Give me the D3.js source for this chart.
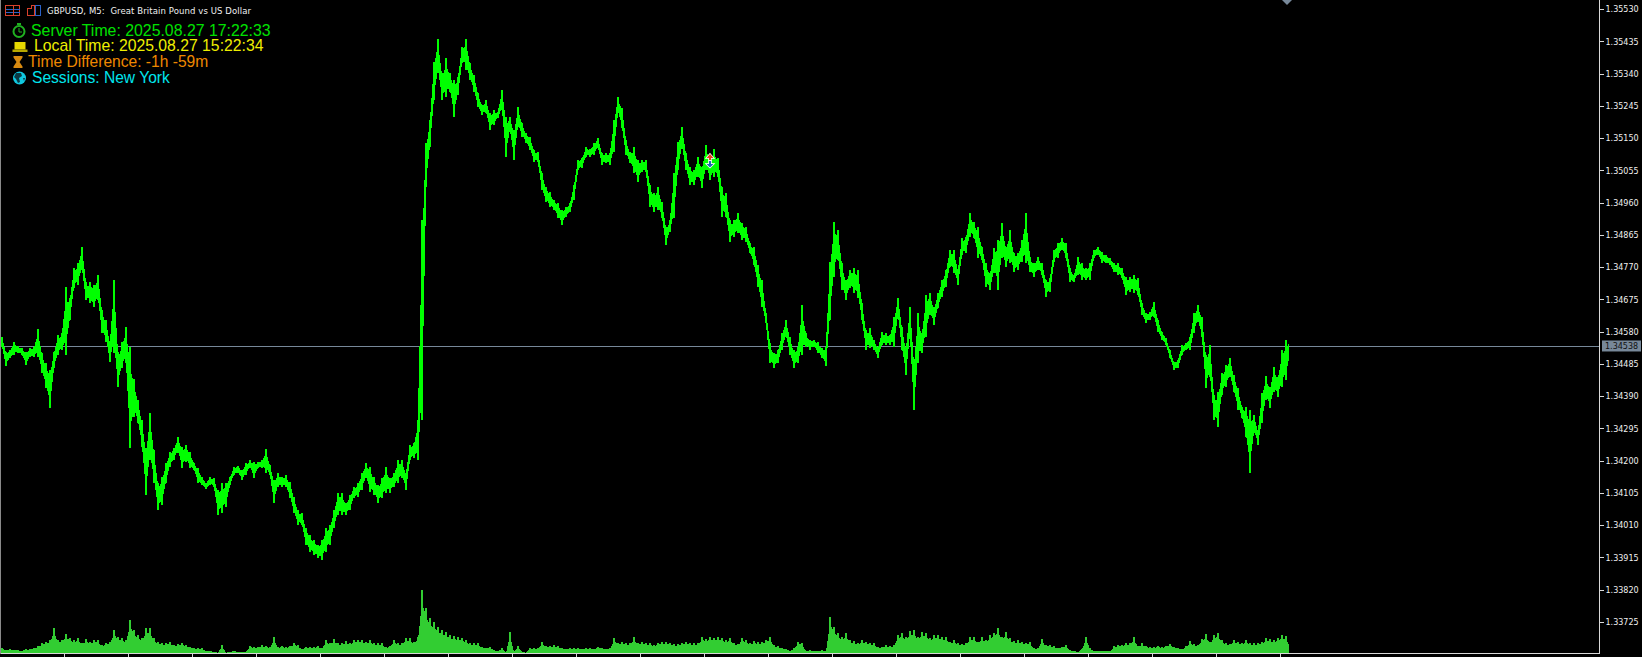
<!DOCTYPE html>
<html><head><meta charset="utf-8">
<script src="https://cdn.jsdelivr.net/npm/d3@7"></script>
<style>html,body{margin:0;background:#000;overflow:hidden}svg{display:block}</style>
</head><body><svg id="c" width="1642" height="657"></svg>
<script>
const highPts=[134564,134520,134526,134550,134538,134532,134520,134532,134535,134588,134517,134488,134467,134520,134570,134576,134712,134679,134768,134782,134830,134726,134726,134717,134747,134644,134615,134550,134732,134520,134550,134594,134535,134441,134379,134320,134238,134341,134232,134134,134152,134193,134226,134238,134270,134241,134247,134226,134193,134179,134152,134134,134152,134149,134114,134134,134134,134152,134182,134185,134173,134193,134202,134196,134196,134202,134235,134187,134143,134164,134152,134158,134137,134093,134055,134046,134002,133981,133967,133952,133967,134002,134011,134055,134105,134105,134075,134099,134123,134134,134164,134193,134182,134152,134128,134149,134182,134149,134164,134202,134202,134164,134247,134252,134320,134909,135136,135204,135374,135442,135342,135386,135342,135321,135330,135419,135442,135371,135336,135283,135248,135262,135224,135233,135227,135292,135213,135213,135174,135242,135195,135165,135154,135115,135109,135047,135006,134991,134968,134959,134939,134947,134959,135012,135086,135092,135124,135118,135136,135151,135106,135106,135106,135204,135271,135239,135145,135109,135124,135086,135086,135086,135012,134988,135006,134962,134889,134909,135047,135139,135183,135106,135065,135056,135095,135065,135130,135086,135118,135092,135006,134988,134909,134909,134930,134900,134889,134841,134830,134776,134732,134635,134547,134517,134526,134576,134615,134564,134526,134535,134658,134576,134556,134556,134550,134532,134535,134785,134903,134880,134782,134732,134762,134768,134762,134664,134585,134591,134556,134535,134579,134576,134570,134624,134679,134594,134535,134652,134497,134635,134576,134688,134694,134652,134694,134732,134762,134821,134821,134762,134856,134859,134930,134903,134889,134830,134782,134753,134827,134850,134900,134830,134880,134812,134812,134850,134930,134800,134782,134800,134782,134732,134738,134821,134841,134856,134841,134768,134747,134800,134782,134768,134782,134821,134830,134815,134806,134797,134782,134782,134768,134741,134741,134747,134738,134664,134635,134638,134667,134615,134579,134562,134526,134491,134497,134541,134547,134564,134635,134658,134624,134511,134541,134394,134402,134458,134482,134502,134452,134414,134358,134358,134350,134335,134291,134399,134449,134417,134476,134447,134526,134556,134556];
const lowPts=[134535,134479,134502,134511,134517,134511,134482,134505,134505,134505,134458,134414,134356,134473,134511,134526,134511,134615,134709,134717,134762,134673,134664,134652,134673,134576,134550,134491,134517,134417,134473,134488,134238,134329,134311,134241,134099,134202,134134,134055,134069,134134,134182,134202,134223,134179,134196,134179,134173,134134,134128,134117,134128,134123,134040,134046,134064,134128,134158,134164,134143,134158,134179,134149,134179,134179,134164,134158,134075,134123,134123,134123,134090,134046,134011,134011,133952,133931,133922,133914,133908,133931,133952,134002,134040,134040,134040,134055,134090,134093,134114,134149,134108,134099,134075,134090,134105,134105,134123,134134,134149,134114,134202,134208,134202,134320,135006,135124,135262,135342,135262,135271,135286,135213,135277,135371,135351,135321,135286,135242,135218,135224,135174,135189,135210,135233,135095,135174,135086,135183,135154,135136,135115,135080,135080,134997,134962,134947,134939,134915,134894,134918,134933,134968,135056,135062,135095,135095,135100,135121,135071,135077,135071,135109,135224,135180,135100,135077,135047,135021,135050,135050,134947,134933,134939,134915,134835,134874,134915,135056,135121,135056,135012,135012,135035,135003,135056,135027,135035,135035,134918,134918,134844,134859,134871,134850,134844,134812,134776,134712,134652,134606,134488,134473,134488,134526,134564,134511,134473,134488,134511,134535,134526,134535,134517,134502,134479,134615,134741,134791,134703,134673,134709,134694,134679,134615,134526,134532,134526,134502,134541,134541,134541,134535,134629,134526,134452,134570,134350,134488,134517,134564,134629,134600,134650,134682,134712,134771,134753,134717,134806,134812,134859,134856,134797,134791,134712,134703,134753,134703,134797,134771,134782,134756,134762,134785,134782,134756,134741,134762,134747,134682,134697,134785,134797,134821,134797,134726,134726,134747,134732,134732,134732,134797,134806,134782,134782,134776,134756,134747,134738,134688,134697,134694,134688,134629,134606,134615,134624,134579,134556,134541,134502,134467,134473,134511,134526,134526,134576,134609,134564,134414,134447,134320,134300,134394,134417,134447,134402,134350,134326,134270,134164,134282,134247,134311,134379,134356,134402,134388,134417,134438,134511];
const volumes=[6,4,5,4,4,3,5,5,6,8,11,12,14,26,14,14,20,16,14,16,11,15,12,14,14,9,11,12,24,17,16,14,34,24,19,16,26,26,16,12,11,11,12,9,10,11,9,7,6,6,6,3,3,2,1,9,1,2,3,2,2,2,8,7,7,9,8,7,17,7,8,7,8,11,9,5,7,7,7,8,6,14,11,15,11,11,13,11,14,14,14,12,14,11,11,11,7,8,14,11,11,16,16,12,17,64,46,36,32,27,24,22,19,18,17,16,14,11,11,11,7,6,7,4,3,6,1,22,2,8,2,1,6,6,6,12,8,8,9,8,6,5,6,6,6,5,6,6,5,7,6,5,6,16,11,12,11,11,17,11,12,11,11,9,11,12,12,11,10,10,11,12,11,11,11,17,15,17,16,17,16,14,16,11,10,16,14,11,13,12,12,14,17,9,8,6,5,3,6,12,11,3,4,3,3,4,3,37,27,21,17,21,14,13,11,14,12,11,11,7,7,9,8,9,19,21,17,23,24,17,22,21,16,19,19,17,17,12,14,11,10,11,17,17,12,17,14,19,21,26,17,22,16,13,14,12,11,12,6,6,15,9,9,8,6,7,9,4,3,2,5,17,6,3,3,3,3,3,8,9,9,11,11,17,8,11,8,7,7,8,7,8,10,7,6,5,8,13,10,9,15,20,12,19,21,14,11,10,14,12,11,14,11,11,11,12,16,15,14,16,19,18,8];
const priceTicks=[1.35530,1.35435,1.35340,1.35245,1.35150,1.35055,1.34960,1.34865,1.34770,1.34675,1.34580,1.34485,1.34390,1.34295,1.34200,1.34105,1.34010,1.33915,1.33820,1.33725];
const currentPrice=1.34538;
const barTicks=d3.range(15.5,322,16);
const title="GBPUSD, M5:  Great Britain Pound vs US Dollar";
const infoLines=["Server Time: 2025.08.27 17:22:33","Local Time: 2025.08.27 15:22:34","Time Difference: -1h -59m","Sessions: New York"];

const svg=d3.select("#c");
svg.append("rect").attr("width",1642).attr("height",657).attr("fill","#000");
const axisX=1599.5, baseY=653.5;
const x=d3.scaleLinear().domain([0,322]).range([2,1290]);
const y=d3.scaleLinear().domain([1.33725,1.35530]).range([622,9.2]);
const yv=d3.scaleLinear().domain([0,65]).range([baseY,baseY-65]);
const slate="#778899";

svg.append("defs").append("clipPath").attr("id","cp").append("rect").attr("x",0).attr("y",0).attr("width",1289).attr("height",654);
svg.append("line").attr("x1",0).attr("x2",axisX).attr("y1",346.5).attr("y2",346.5).attr("stroke",slate).attr("stroke-width",1).attr("shape-rendering","crispEdges");

// volume: body plus a full-height bar for every sampled value
const vg=svg.append("g").attr("clip-path","url(#cp)").attr("shape-rendering","crispEdges");
const volArea=d3.area().x((d,i)=>x(i)).y0(yv(0)).y1(d=>yv(d*0.8));
vg.append("path").datum(volumes).attr("d",volArea).attr("fill","#32cd32");
vg.selectAll("rect").data(volumes).join("rect")
 .attr("x",(d,i)=>x(i)-1).attr("width",2).attr("y",d=>yv(d)).attr("height",d=>yv(0)-yv(d)).attr("fill","#32cd32");

// price: inner band plus a high-low wick for every sampled bar
const bars=d3.zip(highPts,lowPts);
const core=d3.area().x((d,i)=>x(i))
 .y0(d=>y((d[1]+0.22*(d[0]-d[1]))/1e5))
 .y1(d=>y((d[0]-0.22*(d[0]-d[1]))/1e5));
const pg=svg.append("g").attr("clip-path","url(#cp)");
pg.append("path").datum(bars).attr("d",core).attr("fill","#00ff00").attr("stroke","#00ff00").attr("stroke-width",1).attr("shape-rendering","crispEdges");
pg.selectAll("line").data(bars).join("line")
 .attr("x1",(d,i)=>x(i)).attr("x2",(d,i)=>x(i)).attr("y1",d=>y(d[0]/1e5)).attr("y2",d=>y(d[1]/1e5))
 .attr("stroke","#00ff00").attr("stroke-width",2).attr("shape-rendering","crispEdges");

// frame
const fr=svg.append("g").attr("stroke","#d8d8d8").attr("shape-rendering","crispEdges");
fr.append("line").attr("x1",axisX).attr("x2",axisX).attr("y1",0).attr("y2",baseY);
fr.append("line").attr("x1",0).attr("x2",axisX).attr("y1",baseY).attr("y2",baseY);
fr.append("line").attr("x1",0.5).attr("x2",0.5).attr("y1",0).attr("y2",baseY).attr("stroke","#8a8a8a");

// axes
const yAxis=svg.append("g").attr("transform",`translate(${axisX},0)`).call(d3.axisRight(y).tickValues(priceTicks).tickSize(4).tickPadding(2).tickFormat(d3.format(".5f")));
yAxis.select(".domain").remove();
yAxis.selectAll("line").attr("stroke","#d8d8d8").attr("shape-rendering","crispEdges");
yAxis.selectAll("text").attr("fill","#f0f0f0").attr("font-family","'DejaVu Sans'").attr("font-size",8);
const xAxis=svg.append("g").attr("transform",`translate(0,${baseY})`).call(d3.axisBottom(x).tickValues(barTicks).tickSize(4).tickFormat(""));
xAxis.select(".domain").remove();
xAxis.selectAll("line").attr("stroke","#d8d8d8").attr("shape-rendering","crispEdges");

// current price tag
svg.append("rect").attr("x",1602).attr("y",y(currentPrice)-5.5).attr("width",39).attr("height",11).attr("fill",slate);
svg.append("text").attr("x",1605).attr("y",y(currentPrice)).attr("dy",".35em").attr("fill","#111").attr("font-family","'DejaVu Sans'").attr("font-size",8).text(currentPrice.toFixed(5));

// scroll marker
svg.append("path").attr("d","M1282,0L1292,0L1287,5Z").attr("fill",slate);

// trade arrows
const mk=svg.append("g").attr("transform","translate(710,0)");
mk.append("path").attr("d","M0,154L3.5,158L1,158L1,160L-1,160L-1,158L-3.5,158Z").attr("fill","#e8401c").attr("stroke","#fff").attr("stroke-width",1.5).attr("paint-order","stroke");
mk.append("path").attr("d","M-1,161L1,161L1,164L3.5,164L0,167.5L-3.5,164L-1,164Z").attr("fill","#1c64b4").attr("stroke","#fff").attr("stroke-width",1.5).attr("paint-order","stroke");

// title and toolbar icons
const ic=svg.append("g").attr("shape-rendering","crispEdges");
ic.append("rect").attr("x",5.5).attr("y",5.5).attr("width",14).attr("height",10).attr("fill","none").attr("stroke","#d8402c");
ic.append("rect").attr("x",5.5).attr("y",8.5).attr("width",14).attr("height",1).attr("fill","#2a62c8");
ic.append("rect").attr("x",5.5).attr("y",11.5).attr("width",14).attr("height",1).attr("fill","#2a62c8");
ic.append("rect").attr("x",12.5).attr("y",5.5).attr("width",1).attr("height",10).attr("fill","#d8402c");
ic.append("path").attr("d","M27.5,8.5h4v-3h3v10h-7z").attr("fill","none").attr("stroke","#d8402c");
ic.append("path").attr("d","M35.5,5.5h5v10h-5z").attr("fill","none").attr("stroke","#2a62c8");
svg.append("text").attr("x",47).attr("y",14).attr("fill","#f0f0f0").attr("font-family","'DejaVu Sans'").attr("font-size",8.5).attr("xml:space","preserve").attr("textLength",204).text(title);

// info lines
const infoStyle=[{x:31,y:35.5,c:"#00e000",s:15.85},{x:34,y:51,c:"#eeee00",s:15.75},{x:28,y:67,c:"#ee8800",s:15.6},{x:32,y:83,c:"#00e5ee",s:15.6}];
svg.selectAll("text.info").data(infoLines).join("text").attr("class","info")
 .attr("x",(d,i)=>infoStyle[i].x).attr("y",(d,i)=>infoStyle[i].y).attr("fill",(d,i)=>infoStyle[i].c)
 .attr("font-family","'Liberation Sans'").attr("font-size",(d,i)=>infoStyle[i].s).text(d=>d);

// info icons
const g1=svg.append("g");
g1.append("circle").attr("cx",19).attr("cy",31.5).attr("r",5.5).attr("fill","none").attr("stroke","#20b020").attr("stroke-width",2);
g1.append("rect").attr("x",17).attr("y",23).attr("width",4).attr("height",2).attr("fill","#20b020");
g1.append("path").attr("d","M19,28v4h3").attr("stroke","#20b020").attr("fill","none");
g1.append("rect").attr("x",14.5).attr("y",42).attr("width",11).attr("height",7.5).attr("fill","#e6d800");
g1.append("rect").attr("x",12.5).attr("y",49.5).attr("width",15).attr("height",2.5).attr("fill","#b8a800");
g1.append("path").attr("d","M13.5,56h9v1.5l-3,4.5l3,4.5v1.5h-9v-1.5l3,-4.5l-3,-4.5z").attr("fill","#d88a10");
g1.append("circle").attr("cx",19.5).attr("cy",78).attr("r",6.5).attr("fill","#10c8e0");
g1.append("path").attr("d","M16,73l5,0l1,3l-3,2l1,4l-2,1l-2,-4l-2,-2zM23,78l2,0l-1,3z").attr("fill","#0a3a44");
</script></body></html>
